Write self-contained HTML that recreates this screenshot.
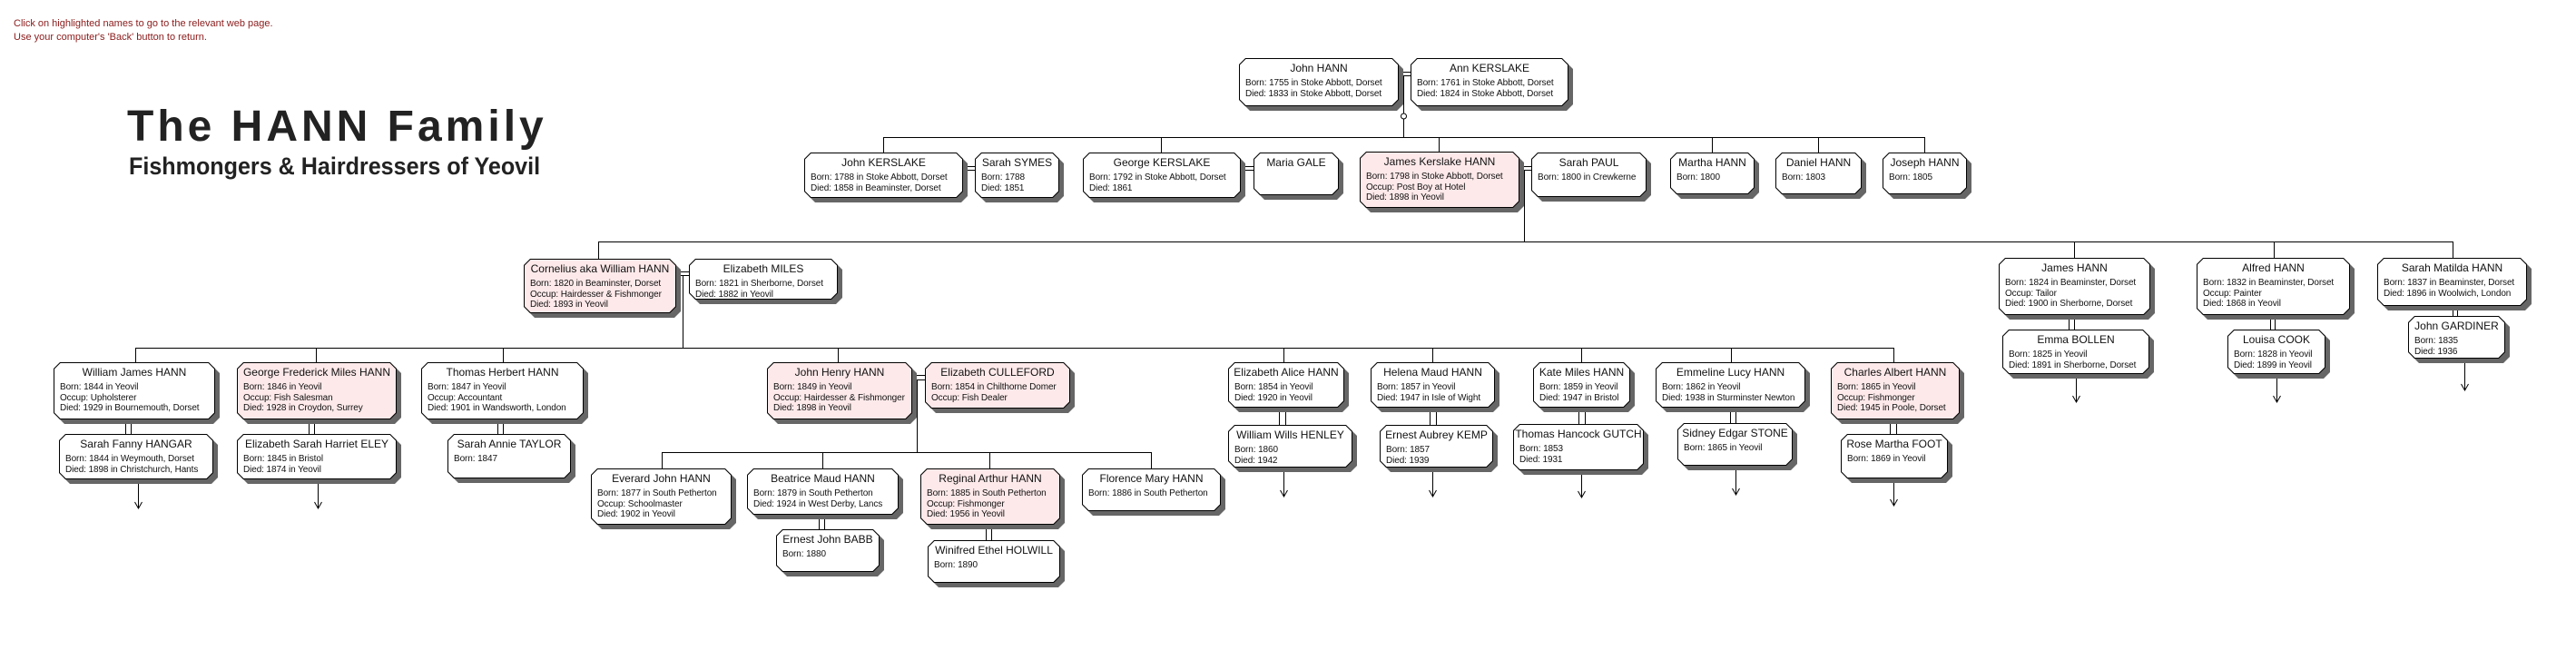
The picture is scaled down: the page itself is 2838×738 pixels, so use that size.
<!DOCTYPE html>
<html><head><meta charset="utf-8">
<style>
html,body{margin:0;padding:0;background:#fff;}
body{width:2838px;height:738px;position:relative;overflow:hidden;font-family:"Liberation Sans",Arial,sans-serif;}
.note{position:absolute;left:15px;color:#8b1a1a;font-size:11px;white-space:nowrap;}
.t1{position:absolute;left:140px;top:112px;font-size:48px;font-weight:bold;color:#222;letter-spacing:4px;white-space:nowrap;}
.t2{position:absolute;left:142px;top:168px;font-size:27px;font-weight:bold;color:#222;white-space:nowrap;transform-origin:0 0;transform:scaleX(0.93);}
svg{position:absolute;left:0;top:0;}
.b{position:absolute;}
.b>div.s,.b>div.o,.b>div.i{position:absolute;clip-path:polygon(7px 0,calc(100% - 7px) 0,100% 7px,100% calc(100% - 7px),calc(100% - 7px) 100%,7px 100%,0 calc(100% - 7px),0 7px);}
.b>div.s{left:5px;top:5px;width:100%;height:100%;background:#666;}
.b>div.o{left:0;top:0;width:100%;height:100%;background:#000;}
.b>div.i{left:1px;top:1px;right:1px;bottom:1px;background:#fff;clip-path:polygon(6.5px 0,calc(100% - 6.5px) 0,100% 6.5px,100% calc(100% - 6.5px),calc(100% - 6.5px) 100%,6.5px 100%,0 calc(100% - 6.5px),0 6.5px);}
.b.p>div.i{background:#fde9ea;}
.b .n{position:absolute;left:0;right:0;top:4px;text-align:center;font-size:12px;line-height:14px;white-space:nowrap;color:#111;}
.b .d{position:absolute;left:7px;top:22px;font-size:10px;line-height:11.7px;white-space:nowrap;color:#111;letter-spacing:-0.1px;}
</style></head><body>
<div class="note" style="top:20px">Click on highlighted names to go to the relevant web page.</div>
<div class="note" style="top:35px">Use your computer's 'Back' button to return.</div>
<div class="t1">The HANN Family</div>
<div class="t2">Fishmongers &amp; Hairdressers of Yeovil</div>

<svg width="2838" height="738" stroke="#000" stroke-width="1" fill="none">
<line x1="1541" y1="79.5" x2="1554" y2="79.5"/><line x1="1541" y1="83.5" x2="1554" y2="83.5"/>
<line x1="1546.5" y1="83" x2="1546.5" y2="125"/><circle cx="1546.5" cy="128" r="3" fill="#fff"/>
<line x1="1546.5" y1="131" x2="1546.5" y2="151"/>
<line x1="973" y1="151.5" x2="2120" y2="151.5"/>
<line x1="973.5" y1="151" x2="973.5" y2="168"/><line x1="1279.5" y1="151" x2="1279.5" y2="168"/><line x1="1585.5" y1="151" x2="1585.5" y2="168"/><line x1="1886.5" y1="151" x2="1886.5" y2="168"/><line x1="2003.5" y1="151" x2="2003.5" y2="168"/><line x1="2120.5" y1="151" x2="2120.5" y2="168"/>
<line x1="1061" y1="183.5" x2="1074" y2="183.5"/><line x1="1061" y1="187.5" x2="1074" y2="187.5"/>
<line x1="1367" y1="183.5" x2="1381" y2="183.5"/><line x1="1367" y1="187.5" x2="1381" y2="187.5"/>
<line x1="1674" y1="183.5" x2="1687" y2="183.5"/><line x1="1674" y1="187.5" x2="1687" y2="187.5"/>
<line x1="1679.5" y1="187" x2="1679.5" y2="266"/>
<line x1="659" y1="266.5" x2="2702" y2="266.5"/>
<line x1="659.5" y1="266" x2="659.5" y2="285"/><line x1="2285.5" y1="266" x2="2285.5" y2="284"/><line x1="2505.5" y1="266" x2="2505.5" y2="284"/><line x1="2702.5" y1="266" x2="2702.5" y2="284"/>
<line x1="745" y1="299.5" x2="759" y2="299.5"/><line x1="745" y1="303.5" x2="759" y2="303.5"/>
<line x1="752.5" y1="303" x2="752.5" y2="383"/>
<line x1="149" y1="383.5" x2="2086" y2="383.5"/>
<line x1="149.5" y1="383" x2="149.5" y2="399"/><line x1="348.5" y1="383" x2="348.5" y2="399"/><line x1="554.5" y1="383" x2="554.5" y2="399"/><line x1="923.5" y1="383" x2="923.5" y2="399"/><line x1="1414.5" y1="383" x2="1414.5" y2="399"/><line x1="1578.5" y1="383" x2="1578.5" y2="399"/><line x1="1742.5" y1="383" x2="1742.5" y2="399"/><line x1="1907.5" y1="383" x2="1907.5" y2="399"/><line x1="2086.5" y1="383" x2="2086.5" y2="399"/>
<line x1="138.5" y1="462" x2="138.5" y2="478"/><line x1="144.5" y1="462" x2="144.5" y2="478"/>
<line x1="340.5" y1="462" x2="340.5" y2="478"/><line x1="346.5" y1="462" x2="346.5" y2="478"/>
<line x1="548.5" y1="462" x2="548.5" y2="478"/><line x1="554.5" y1="462" x2="554.5" y2="478"/>
<line x1="2279.5" y1="347" x2="2279.5" y2="363"/><line x1="2285.5" y1="347" x2="2285.5" y2="363"/>
<line x1="2501.5" y1="347" x2="2501.5" y2="363"/><line x1="2506.5" y1="347" x2="2506.5" y2="363"/>
<line x1="2702.5" y1="337" x2="2702.5" y2="348"/><line x1="2707.5" y1="337" x2="2707.5" y2="348"/>
<line x1="1409.5" y1="449" x2="1409.5" y2="468"/><line x1="1416.5" y1="449" x2="1416.5" y2="468"/>
<line x1="1575.5" y1="449" x2="1575.5" y2="468"/><line x1="1582.5" y1="449" x2="1582.5" y2="468"/>
<line x1="1739.5" y1="449" x2="1739.5" y2="467"/><line x1="1746.5" y1="449" x2="1746.5" y2="467"/>
<line x1="1906.5" y1="449" x2="1906.5" y2="466"/><line x1="1912.5" y1="449" x2="1912.5" y2="466"/>
<line x1="2082.5" y1="463" x2="2082.5" y2="478"/><line x1="2089.5" y1="463" x2="2089.5" y2="478"/>
<line x1="902.5" y1="567" x2="902.5" y2="583"/><line x1="908.5" y1="567" x2="908.5" y2="583"/>
<line x1="1086.5" y1="578" x2="1086.5" y2="595"/><line x1="1092.5" y1="578" x2="1092.5" y2="595"/>
<line x1="1005" y1="413.5" x2="1019" y2="413.5"/><line x1="1005" y1="418.5" x2="1019" y2="418.5"/>
<line x1="1010.5" y1="418" x2="1010.5" y2="498"/>
<line x1="729" y1="498.5" x2="1268" y2="498.5"/>
<line x1="729.5" y1="498" x2="729.5" y2="516"/><line x1="906.5" y1="498" x2="906.5" y2="516"/><line x1="1090.5" y1="498" x2="1090.5" y2="516"/><line x1="1268.5" y1="498" x2="1268.5" y2="516"/>
<path d="M152.5 528V560M148.5 553L152.5 560L156.5 553"/>
<path d="M350.5 528V560M346.5 553L350.5 560L354.5 553"/>
<path d="M2287.5 412V443M2283.5 436L2287.5 443L2291.5 436"/>
<path d="M2508.5 412V443M2504.5 436L2508.5 443L2512.5 436"/>
<path d="M2715.5 395V430M2711.5 423L2715.5 430L2719.5 423"/>
<path d="M1414.5 515V547M1410.5 540L1414.5 547L1418.5 540"/>
<path d="M1578.5 515V547M1574.5 540L1578.5 547L1582.5 540"/>
<path d="M1742.5 518V548M1738.5 541L1742.5 548L1746.5 541"/>
<path d="M1912.5 513V545M1908.5 538L1912.5 545L1916.5 538"/>
<path d="M2086.5 527V557M2082.5 550L2086.5 557L2090.5 550"/>
</svg>

<div class="b" style="left:1365px;top:64px;width:176px;height:53px"><div class="s"></div><div class="o"></div><div class="i"></div><div class="n">John HANN</div><div class="d">Born: 1755 in Stoke Abbott, Dorset<br>Died: 1833 in Stoke Abbott, Dorset</div></div>
<div class="b" style="left:1554px;top:64px;width:174px;height:53px"><div class="s"></div><div class="o"></div><div class="i"></div><div class="n">Ann KERSLAKE</div><div class="d">Born: 1761 in Stoke Abbott, Dorset<br>Died: 1824 in Stoke Abbott, Dorset</div></div>

<div class="b" style="left:886px;top:168px;width:175px;height:50px"><div class="s"></div><div class="o"></div><div class="i"></div><div class="n">John KERSLAKE</div><div class="d">Born: 1788 in Stoke Abbott, Dorset<br>Died: 1858 in Beaminster, Dorset</div></div>
<div class="b" style="left:1074px;top:168px;width:93px;height:50px"><div class="s"></div><div class="o"></div><div class="i"></div><div class="n">Sarah SYMES</div><div class="d">Born: 1788<br>Died: 1851</div></div>
<div class="b" style="left:1193px;top:168px;width:174px;height:50px"><div class="s"></div><div class="o"></div><div class="i"></div><div class="n">George KERSLAKE</div><div class="d">Born: 1792 in Stoke Abbott, Dorset<br>Died: 1861</div></div>
<div class="b" style="left:1381px;top:168px;width:94px;height:47px"><div class="s"></div><div class="o"></div><div class="i"></div><div class="n">Maria GALE</div></div>
<div class="b p" style="left:1498px;top:167px;width:176px;height:62px"><div class="s"></div><div class="o"></div><div class="i"></div><div class="n">James Kerslake HANN</div><div class="d">Born: 1798 in Stoke Abbott, Dorset<br>Occup: Post Boy at Hotel<br>Died: 1898 in Yeovil</div></div>
<div class="b" style="left:1687px;top:168px;width:127px;height:49px"><div class="s"></div><div class="o"></div><div class="i"></div><div class="n">Sarah PAUL</div><div class="d">Born: 1800 in Crewkerne</div></div>
<div class="b" style="left:1840px;top:168px;width:93px;height:46px"><div class="s"></div><div class="o"></div><div class="i"></div><div class="n">Martha HANN</div><div class="d">Born: 1800</div></div>
<div class="b" style="left:1956px;top:168px;width:95px;height:46px"><div class="s"></div><div class="o"></div><div class="i"></div><div class="n">Daniel HANN</div><div class="d">Born: 1803</div></div>
<div class="b" style="left:2074px;top:168px;width:93px;height:46px"><div class="s"></div><div class="o"></div><div class="i"></div><div class="n">Joseph HANN</div><div class="d">Born: 1805</div></div>

<div class="b p" style="left:577px;top:285px;width:168px;height:60px"><div class="s"></div><div class="o"></div><div class="i"></div><div class="n">Cornelius aka William HANN</div><div class="d">Born: 1820 in Beaminster, Dorset<br>Occup: Hairdesser &amp; Fishmonger<br>Died: 1893 in Yeovil</div></div>
<div class="b" style="left:759px;top:285px;width:164px;height:45px"><div class="s"></div><div class="o"></div><div class="i"></div><div class="n">Elizabeth MILES</div><div class="d">Born: 1821 in Sherborne, Dorset<br>Died: 1882 in Yeovil</div></div>
<div class="b" style="left:2202px;top:284px;width:167px;height:63px"><div class="s"></div><div class="o"></div><div class="i"></div><div class="n">James HANN</div><div class="d">Born: 1824 in Beaminster, Dorset<br>Occup: Tailor<br>Died: 1900 in Sherborne, Dorset</div></div>
<div class="b" style="left:2206px;top:363px;width:162px;height:49px"><div class="s"></div><div class="o"></div><div class="i"></div><div class="n">Emma BOLLEN</div><div class="d">Born: 1825 in Yeovil<br>Died: 1891 in Sherborne, Dorset</div></div>
<div class="b" style="left:2420px;top:284px;width:169px;height:63px"><div class="s"></div><div class="o"></div><div class="i"></div><div class="n">Alfred HANN</div><div class="d">Born: 1832 in Beaminster, Dorset<br>Occup: Painter<br>Died: 1868 in Yeovil</div></div>
<div class="b" style="left:2454px;top:363px;width:108px;height:49px"><div class="s"></div><div class="o"></div><div class="i"></div><div class="n">Louisa COOK</div><div class="d">Born: 1828 in Yeovil<br>Died: 1899 in Yeovil</div></div>
<div class="b" style="left:2619px;top:284px;width:165px;height:53px"><div class="s"></div><div class="o"></div><div class="i"></div><div class="n">Sarah Matilda HANN</div><div class="d">Born: 1837 in Beaminster, Dorset<br>Died: 1896 in Woolwich, London</div></div>
<div class="b" style="left:2653px;top:348px;width:107px;height:47px"><div class="s"></div><div class="o"></div><div class="i"></div><div class="n">John GARDINER</div><div class="d">Born: 1835<br>Died: 1936</div></div>

<div class="b" style="left:59px;top:399px;width:178px;height:63px"><div class="s"></div><div class="o"></div><div class="i"></div><div class="n">William James HANN</div><div class="d">Born: 1844 in Yeovil<br>Occup: Upholsterer<br>Died: 1929 in Bournemouth, Dorset</div></div>
<div class="b" style="left:65px;top:478px;width:170px;height:50px"><div class="s"></div><div class="o"></div><div class="i"></div><div class="n">Sarah Fanny HANGAR</div><div class="d">Born: 1844 in Weymouth, Dorset<br>Died: 1898 in Christchurch, Hants</div></div>
<div class="b p" style="left:261px;top:399px;width:176px;height:63px"><div class="s"></div><div class="o"></div><div class="i"></div><div class="n">George Frederick Miles HANN</div><div class="d">Born: 1846 in Yeovil<br>Occup: Fish Salesman<br>Died: 1928 in Croydon, Surrey</div></div>
<div class="b" style="left:261px;top:478px;width:176px;height:50px"><div class="s"></div><div class="o"></div><div class="i"></div><div class="n">Elizabeth Sarah Harriet ELEY</div><div class="d">Born: 1845 in Bristol<br>Died: 1874 in Yeovil</div></div>
<div class="b" style="left:464px;top:399px;width:179px;height:63px"><div class="s"></div><div class="o"></div><div class="i"></div><div class="n">Thomas Herbert HANN</div><div class="d">Born: 1847 in Yeovil<br>Occup: Accountant<br>Died: 1901 in Wandsworth, London</div></div>
<div class="b" style="left:493px;top:478px;width:136px;height:49px"><div class="s"></div><div class="o"></div><div class="i"></div><div class="n">Sarah Annie TAYLOR</div><div class="d">Born: 1847</div></div>

<div class="b p" style="left:845px;top:399px;width:160px;height:63px"><div class="s"></div><div class="o"></div><div class="i"></div><div class="n">John Henry HANN</div><div class="d">Born: 1849 in Yeovil<br>Occup: Hairdesser &amp; Fishmonger<br>Died: 1898 in Yeovil</div></div>
<div class="b p" style="left:1019px;top:399px;width:160px;height:51px"><div class="s"></div><div class="o"></div><div class="i"></div><div class="n">Elizabeth CULLEFORD</div><div class="d">Born: 1854 in Chilthorne Domer<br>Occup: Fish Dealer</div></div>
<div class="b" style="left:651px;top:516px;width:155px;height:62px"><div class="s"></div><div class="o"></div><div class="i"></div><div class="n">Everard John HANN</div><div class="d">Born: 1877 in South Petherton<br>Occup: Schoolmaster<br>Died: 1902 in Yeovil</div></div>
<div class="b" style="left:823px;top:516px;width:167px;height:51px"><div class="s"></div><div class="o"></div><div class="i"></div><div class="n">Beatrice Maud HANN</div><div class="d">Born: 1879 in South Petherton<br>Died: 1924 in West Derby, Lancs</div></div>
<div class="b" style="left:855px;top:583px;width:114px;height:47px"><div class="s"></div><div class="o"></div><div class="i"></div><div class="n">Ernest John BABB</div><div class="d">Born: 1880</div></div>
<div class="b p" style="left:1014px;top:516px;width:154px;height:62px"><div class="s"></div><div class="o"></div><div class="i"></div><div class="n">Reginal Arthur HANN</div><div class="d">Born: 1885 in South Petherton<br>Occup: Fishmonger<br>Died: 1956 in Yeovil</div></div>
<div class="b" style="left:1022px;top:595px;width:146px;height:47px"><div class="s"></div><div class="o"></div><div class="i"></div><div class="n">Winifred Ethel HOLWILL</div><div class="d">Born: 1890</div></div>
<div class="b" style="left:1192px;top:516px;width:153px;height:47px"><div class="s"></div><div class="o"></div><div class="i"></div><div class="n">Florence Mary HANN</div><div class="d">Born: 1886 in South Petherton</div></div>

<div class="b" style="left:1353px;top:399px;width:128px;height:50px"><div class="s"></div><div class="o"></div><div class="i"></div><div class="n">Elizabeth Alice HANN</div><div class="d">Born: 1854 in Yeovil<br>Died: 1920 in Yeovil</div></div>
<div class="b" style="left:1353px;top:468px;width:137px;height:47px"><div class="s"></div><div class="o"></div><div class="i"></div><div class="n">William Wills HENLEY</div><div class="d">Born: 1860<br>Died: 1942</div></div>
<div class="b" style="left:1510px;top:399px;width:137px;height:50px"><div class="s"></div><div class="o"></div><div class="i"></div><div class="n">Helena Maud HANN</div><div class="d">Born: 1857 in Yeovil<br>Died: 1947 in Isle of Wight</div></div>
<div class="b" style="left:1520px;top:468px;width:125px;height:47px"><div class="s"></div><div class="o"></div><div class="i"></div><div class="n">Ernest Aubrey KEMP</div><div class="d">Born: 1857<br>Died: 1939</div></div>
<div class="b" style="left:1689px;top:399px;width:107px;height:50px"><div class="s"></div><div class="o"></div><div class="i"></div><div class="n">Kate Miles HANN</div><div class="d">Born: 1859 in Yeovil<br>Died: 1947 in Bristol</div></div>
<div class="b" style="left:1667px;top:467px;width:144px;height:51px"><div class="s"></div><div class="o"></div><div class="i"></div><div class="n">Thomas Hancock GUTCH</div><div class="d">Born: 1853<br>Died: 1931</div></div>
<div class="b" style="left:1824px;top:399px;width:165px;height:50px"><div class="s"></div><div class="o"></div><div class="i"></div><div class="n">Emmeline Lucy HANN</div><div class="d">Born: 1862 in Yeovil<br>Died: 1938 in Sturminster Newton</div></div>
<div class="b" style="left:1848px;top:466px;width:127px;height:47px"><div class="s"></div><div class="o"></div><div class="i"></div><div class="n">Sidney Edgar STONE</div><div class="d">Born: 1865 in Yeovil</div></div>
<div class="b p" style="left:2017px;top:399px;width:142px;height:63px"><div class="s"></div><div class="o"></div><div class="i"></div><div class="n">Charles Albert HANN</div><div class="d">Born: 1865 in Yeovil<br>Occup: Fishmonger<br>Died: 1945 in Poole, Dorset</div></div>
<div class="b" style="left:2028px;top:478px;width:118px;height:49px"><div class="s"></div><div class="o"></div><div class="i"></div><div class="n">Rose Martha FOOT</div><div class="d">Born: 1869 in Yeovil</div></div>
</body></html>
